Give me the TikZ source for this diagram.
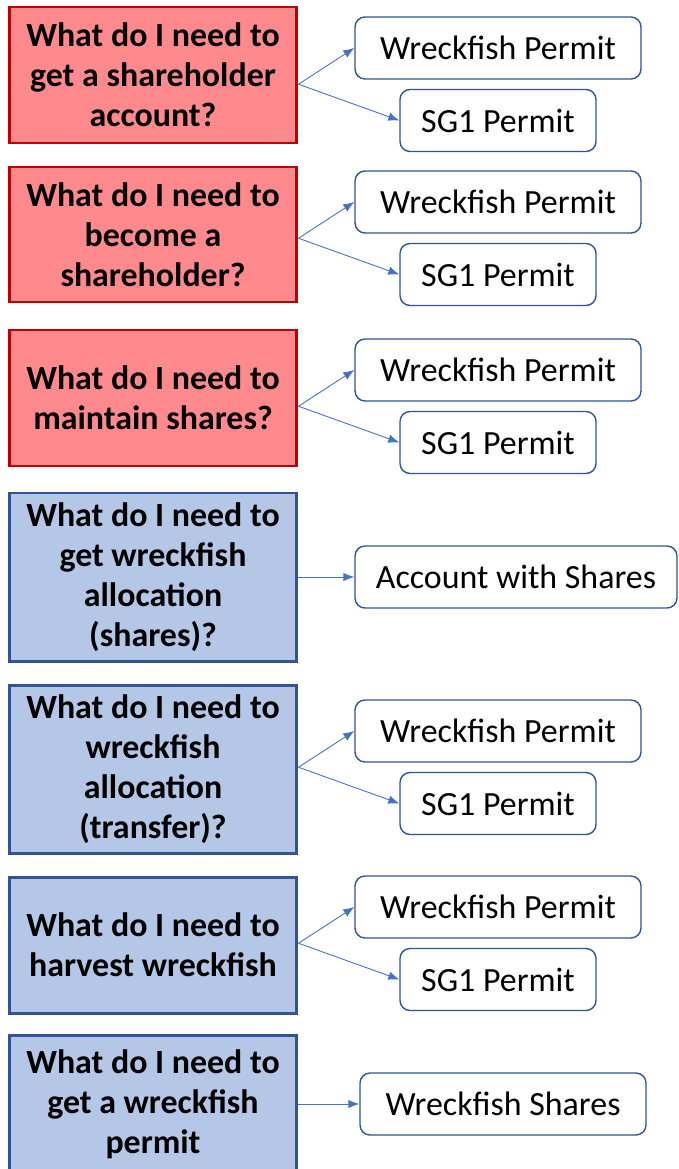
\documentclass[tikz,border=0pt]{standalone}
\usepackage{fontspec}
\setmainfont{Carlito}
\usetikzlibrary{arrows.meta,calc}

\definecolor{qred}{HTML}{FF8A8E}
\definecolor{qredline}{HTML}{C00000}
\definecolor{qblue}{HTML}{B4C7E7}
\definecolor{qblueline}{HTML}{2F5597}
\definecolor{arrowblue}{HTML}{4472C4}

\tikzstyle{question} = [rectangle,draw,line width=1.7pt,minimum width=5.76cm,align=center,
  font=\fontsize{19.3}{22.8}\selectfont\bfseries,inner sep=0pt]
\tikzstyle{red question} = [question,fill=qred,draw=qredline]
\tikzstyle{blue question} = [question,fill=qblue,draw=qblueline]
\tikzstyle{answer} = [rectangle,rounded corners=0.2cm,draw=qblueline,line width=0.8pt,fill=white,
  minimum height=1.24cm,font=\fontsize{19.3}{22.8}\selectfont,inner sep=0pt]
\tikzstyle{edge} = [draw,arrowblue,line width=0.5pt,-{Latex[length=0.22cm,width=0.17cm]}]

\begin{document}
\begin{tikzpicture}[x=0.02cm,y=-0.02cm]
     \useasboundingbox (0,0) rectangle (679,1169);
     \clip (0,0) rectangle (679,1169);
     % the questions on the left
     \foreach \pos/\name/\h/\txt in {{(153,75)/q1/136/What do I need to\\get a shareholder\\account?},
       {(153,234.5)/q2/135/What do I need to\\become a\\shareholder?},
       {(153,398)/q3/136/What do I need to\\maintain shares?}}
     \node[red question,minimum height=\h*0.02cm] (\name) at \pos {\txt};

     \foreach \pos/\name/\h/\txt in {{(153,577)/q4/168/What do I need to\\get wreckfish\\allocation\\(shares)?},
       {(153,769)/q5/168/What do I need to\\wreckfish\\allocation\\(transfer)?},
       {(153,945)/q6/136/What do I need to\\harvest wreckfish},
       {(153,1104)/q7/138/What do I need to\\get a wreckfish\\permit}}
     \node[blue question,minimum height=\h*0.02cm] (\name) at \pos {\txt};

     % the permits on the right
     \foreach \y/\row in {48/1, 202/2, 370/3, 731/5, 907/6}
     {
       \node[answer,minimum width=5.72cm] (w\row) at (498,\y) {Wreckfish Permit};
       \node[answer,minimum width=3.92cm] (s\row) at (498,\y+72.5) {SG1 Permit};
     }
     \node[answer,minimum width=6.44cm] (a4) at (516,577) {Account with Shares};
     \node[answer,minimum width=5.72cm] (a7) at (503,1104) {Wreckfish Shares};

     % connect questions with what they need
     \foreach \q/\w/\s in {q1/w1/s1, q2/w2/s2, q3/w3/s3, q5/w5/s5, q6/w6/s6}
     {
       \coordinate (m\q) at ($(\w.west)!0.5!(\s.west)$);
       \path[edge] (\q.east |- m\q) -- (\w.west);
       \path[edge] (\q.east |- m\q) -- (\s.west);
     }
     \foreach \source/\dest in {q4/a4, q7/a7}
     \path[edge] (\source.east |- \dest.west) -- (\dest.west);
\end{tikzpicture}
\end{document}
